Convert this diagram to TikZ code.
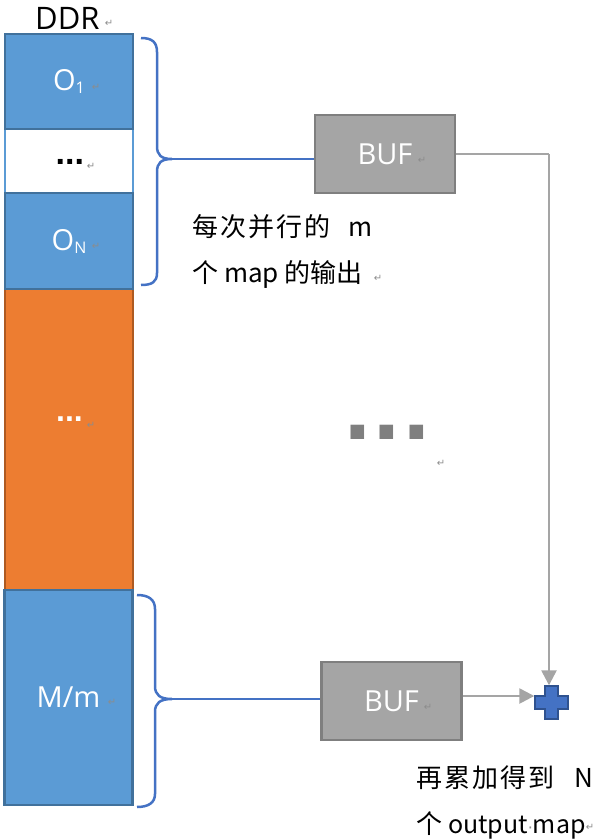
\documentclass[tikz,border=0pt]{standalone}
\usepackage{fontspec}
\setmainfont{Noto Sans CJK SC}
\newfontfamily\dejavu{DejaVu Sans}
\newfontfamily\arialfont{Liberation Sans}
\newfontfamily\opensans{Open Sans}
\usetikzlibrary{arrows.meta,calc}
\definecolor{cblue}{HTML}{5B9BD5}
\definecolor{cblueb}{HTML}{41719C}
\definecolor{corange}{HTML}{ED7D31}
\definecolor{corangeb}{HTML}{AE5A21}
\definecolor{cgray}{HTML}{A5A5A5}
\definecolor{cgrayb}{HTML}{7F7F7F}
\definecolor{braceblue}{HTML}{4472C4}
\definecolor{plusb}{HTML}{2F528F}
\definecolor{markgray}{HTML}{8C8C8C}
\newcommand{\fs}[1]{\fontsize{#1}{#1}\selectfont}
\newcommand{\pmark}{{\dejavu\fs{10}\color{markgray}↵}}
\newcommand{\ls}{\hspace{2pt}}
\begin{document}
\begin{tikzpicture}[x=1pt,y=-1pt,
  blockbox/.style={draw=cblueb, fill=cblue, line width=2.5pt, minimum width=128pt, inner sep=0pt, text=white, font=\opensans\fs{29}},
  orangebox/.style={draw=corangeb, fill=corange, line width=2.5pt, minimum width=128pt, inner sep=0pt},
  whitebox/.style={draw=cblue, fill=white, line width=2.5pt, minimum width=128pt, inner sep=0pt},
  bufbox/.style={draw=cgrayb, fill=cgray, line width=2.5pt, minimum width=140pt, minimum height=78pt, inner sep=0pt, text=white, font=\opensans\fs{29}},
  bracestyle/.style={draw=braceblue, line width=2.5pt},
  gline/.style={draw=cgray, line width=2.5pt},
  garrow/.style={gline, -{Triangle[length=15pt,width=15pt]}},
  txt/.style={anchor=base west, inner sep=0pt, font=\fs{26}},
  pmarknode/.style={inner sep=0pt},
]
\useasboundingbox (0,0) rectangle (596,839);

% DDR column
\node[whitebox, minimum height=64pt] (dotsbox) at (69,161) {};
\node[orangebox, minimum height=301pt] (orange) at (69,439.5) {};
\node[blockbox, minimum height=95pt] (o1) at (69,81.5) {O\raisebox{-3pt}{\fs{16}1}};
\node[blockbox, minimum height=96pt] (on) at (69,241) {O\raisebox{-3pt}{\fs{16}N}};
\node[blockbox, minimum height=215pt] (mm) at (68.5,697.5) {M/m};

\node[anchor=base west, inner sep=0pt, font=\arialfont\bfseries\fs{34}] (d1) at (55.5,164) {...};
\node[anchor=base west, inner sep=0pt, font=\arialfont\bfseries\fs{32}, text=white] (d2) at (56,421) {...};
\node[anchor=base west, inner sep=0pt, font=\arialfont\bfseries\fs{96}, text=cgrayb] (d3) at (344,439) {.\hspace{3pt}.\hspace{3pt}.};

\node[txt, font=\opensans\fs{31}] (ddr) at (35,29) {DDR};

% BUF boxes
\node[bufbox] (buf1) at (385,154) {BUF};
\node[bufbox] (buf2) at (391.5,701) {BUF};

% plus
\node[minimum size=34pt, inner sep=0pt] (plus) at (551.5,702.5) {};
\filldraw[fill=braceblue, draw=plusb, line width=1.5pt, shift={(plus.center)}]
  (-6.5,-16.5) -- (6.5,-16.5) -- (6.5,-6.5) -- (16.5,-6.5) -- (16.5,6.5) -- (6.5,6.5)
  -- (6.5,16.5) -- (-6.5,16.5) -- (-6.5,6.5) -- (-16.5,6.5) -- (-16.5,-6.5) -- (-6.5,-6.5) -- cycle;

% braces
\coordinate (t1) at (172,159);
\draw[bracestyle] (141,38) .. controls (152,38) and (157,42) .. (157,52) -- (157,146)
  .. controls (157,155) and (161,159) .. (t1)
  .. controls (161,159) and (157,163) .. (157,172) -- (157,273)
  .. controls (157,282) and (152,285) .. (141,285);
\draw[bracestyle] (t1) -- (t1 -| buf1.west);

\coordinate (t2) at (172,699);
\draw[bracestyle] (137,595) .. controls (148,595) and (155,599) .. (155,609) -- (155,686)
  .. controls (155,695) and (160,699) .. (t2)
  .. controls (160,699) and (155,703) .. (155,712) -- (155,794)
  .. controls (155,803) and (148,807) .. (137,807);
\draw[bracestyle] (t2) -- (t2 -| buf2.west);

% gray connectors
\coordinate (corner) at (549,154);
\draw[gline] (buf1.east) -- (corner);
\draw[garrow] (corner) -- (corner |- plus.north);
\draw[garrow] ([yshift=5pt]buf2.east) -- ([yshift=5pt]buf2.east -| plus.west);

% texts
\node[txt] (l1) at (192,236) {每\ls 次\ls 并\ls 行\ls 的\hspace{18pt}m};
\node[txt] (l2) at (192,282) {个 map 的输出};
\node[txt] (l3) at (416,787) {再\ls 累\ls 加\ls 得\ls 到\hspace{20pt}N};
\node[txt] (l4) at (416,833) {个 {\fs{25}output{\dejavu\fs{16}\color{markgray}·}map}};

% paragraph marks
\node[pmarknode] at (109,23) {\pmark};
\node[pmarknode] at (96,87) {\pmark};
\node[pmarknode] at (91,166) {\pmark};
\node[pmarknode] at (96,246) {\pmark};
\node[pmarknode] at (91,425) {\pmark};
\node[pmarknode] at (441,463) {\pmark};
\node[pmarknode] at (422,160) {\pmark};
\node[pmarknode] at (378,278) {\pmark};
\node[pmarknode] at (112,702) {\pmark};
\node[pmarknode] at (428,707) {\pmark};
\node[pmarknode] at (590,827) {\pmark};
\end{tikzpicture}
\end{document}
